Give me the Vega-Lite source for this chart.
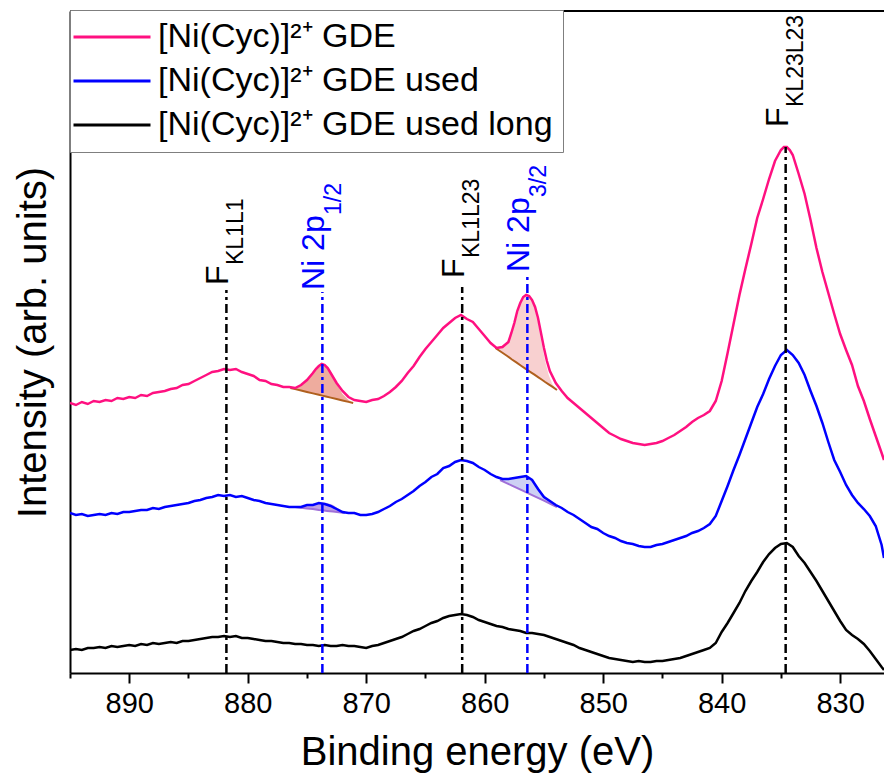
{
"$schema": "https://vega.github.io/schema/vega-lite/v6.json",
"width": 814, "height": 662,
"autosize": {"type": "none"},
"padding": {"left": 70, "top": 11, "right": 0, "bottom": 105},
"config": {"font": "Liberation Sans", "view": {"stroke": null},
  "axis": {"domainColor": "black", "domainWidth": 2, "tickColor": "black", "tickWidth": 2, "labelColor": "black", "titleColor": "black", "titleFontWeight": "normal", "grid": false, "labelFont": "Liberation Sans", "titleFont": "Liberation Sans"}},
"datasets": {
"spec": [
{"s":"a","e":895,"I":270},{"s":"a","e":894.5,"I":268},{"s":"a","e":894,"I":271},{"s":"a","e":893.5,"I":269},{"s":"a","e":893,"I":272},{"s":"a","e":892.5,"I":271},{"s":"a","e":892,"I":273},{"s":"a","e":891.5,"I":272},{"s":"a","e":891,"I":275},{"s":"a","e":890.5,"I":274},{"s":"a","e":890,"I":276},{"s":"a","e":889.5,"I":275},{"s":"a","e":889,"I":278},{"s":"a","e":888.5,"I":277},{"s":"a","e":888,"I":280},{"s":"a","e":887.5,"I":281},{"s":"a","e":887,"I":282},{"s":"a","e":886.5,"I":284},{"s":"a","e":886,"I":285},{"s":"a","e":885.5,"I":288},{"s":"a","e":885,"I":289},{"s":"a","e":884.5,"I":292},{"s":"a","e":884,"I":295},{"s":"a","e":883.5,"I":298},{"s":"a","e":883,"I":301},{"s":"a","e":882.5,"I":302},{"s":"a","e":882,"I":304},{"s":"a","e":881.5,"I":303},{"s":"a","e":881,"I":304},{"s":"a","e":880.5,"I":301},{"s":"a","e":880,"I":299},{"s":"a","e":879.5,"I":297},{"s":"a","e":879,"I":293},{"s":"a","e":878.5,"I":292},{"s":"a","e":878,"I":289},{"s":"a","e":877.5,"I":288},{"s":"a","e":877,"I":286},{"s":"a","e":876.5,"I":286},{"s":"a","e":876,"I":285},{"s":"a","e":875.5,"I":288},{"s":"a","e":875,"I":293},{"s":"a","e":874.5,"I":300},{"s":"a","e":874.25,"I":304},{"s":"a","e":874,"I":307},{"s":"a","e":873.75,"I":309},{"s":"a","e":873.5,"I":308},{"s":"a","e":873.25,"I":305},{"s":"a","e":873,"I":300},{"s":"a","e":872.75,"I":295},{"s":"a","e":872.5,"I":290},{"s":"a","e":872,"I":282},{"s":"a","e":871.5,"I":276},{"s":"a","e":871,"I":273},{"s":"a","e":870.5,"I":272},{"s":"a","e":870,"I":271},{"s":"a","e":869.5,"I":273},{"s":"a","e":869,"I":274},{"s":"a","e":868.5,"I":277},{"s":"a","e":868,"I":281},{"s":"a","e":867.5,"I":286},{"s":"a","e":867,"I":292},{"s":"a","e":866.5,"I":300},{"s":"a","e":866,"I":307},{"s":"a","e":865.5,"I":316},{"s":"a","e":865,"I":324},{"s":"a","e":864.5,"I":331},{"s":"a","e":864,"I":338},{"s":"a","e":863.5,"I":345},{"s":"a","e":863,"I":350},{"s":"a","e":862.5,"I":355},{"s":"a","e":862,"I":358},{"s":"a","e":861.5,"I":354},{"s":"a","e":861,"I":351},{"s":"a","e":860.5,"I":344},{"s":"a","e":860,"I":337},{"s":"a","e":859.5,"I":330},{"s":"a","e":859,"I":325},{"s":"a","e":858.5,"I":326},{"s":"a","e":858,"I":331},{"s":"a","e":857.75,"I":340},{"s":"a","e":857.5,"I":350},{"s":"a","e":857.25,"I":362},{"s":"a","e":857,"I":370},{"s":"a","e":856.75,"I":376},{"s":"a","e":856.5,"I":378},{"s":"a","e":856.25,"I":377},{"s":"a","e":856,"I":373},{"s":"a","e":855.75,"I":366},{"s":"a","e":855.5,"I":355},{"s":"a","e":855.25,"I":340},{"s":"a","e":855,"I":325},{"s":"a","e":854.75,"I":312},{"s":"a","e":854.5,"I":302},{"s":"a","e":854,"I":290},{"s":"a","e":853.5,"I":282},{"s":"a","e":853,"I":275},{"s":"a","e":852.5,"I":270},{"s":"a","e":852,"I":265},{"s":"a","e":851.5,"I":260},{"s":"a","e":851,"I":255},{"s":"a","e":850.5,"I":250},{"s":"a","e":850,"I":245},{"s":"a","e":849.5,"I":240},{"s":"a","e":849,"I":237},{"s":"a","e":848.5,"I":234},{"s":"a","e":848,"I":232},{"s":"a","e":847.5,"I":230},{"s":"a","e":847,"I":229},{"s":"a","e":846.5,"I":228},{"s":"a","e":846,"I":229},{"s":"a","e":845.5,"I":230},{"s":"a","e":845,"I":232},{"s":"a","e":844.5,"I":235},{"s":"a","e":844,"I":238},{"s":"a","e":843.5,"I":242},{"s":"a","e":843,"I":246},{"s":"a","e":842.5,"I":251},{"s":"a","e":842,"I":255},{"s":"a","e":841.5,"I":258},{"s":"a","e":841,"I":262},{"s":"a","e":840.5,"I":272},{"s":"a","e":840,"I":292},{"s":"a","e":839.5,"I":320},{"s":"a","e":839,"I":349},{"s":"a","e":838.5,"I":378},{"s":"a","e":838,"I":404},{"s":"a","e":837.5,"I":429},{"s":"a","e":837,"I":455},{"s":"a","e":836.5,"I":474},{"s":"a","e":836,"I":494},{"s":"a","e":835.5,"I":512},{"s":"a","e":835,"I":523},{"s":"a","e":834.75,"I":526},{"s":"a","e":834.5,"I":526},{"s":"a","e":834.25,"I":523},{"s":"a","e":834,"I":518},{"s":"a","e":833.5,"I":499},{"s":"a","e":833,"I":479},{"s":"a","e":832.5,"I":453},{"s":"a","e":832,"I":425},{"s":"a","e":831.5,"I":401},{"s":"a","e":831,"I":380},{"s":"a","e":830.5,"I":359},{"s":"a","e":830,"I":339},{"s":"a","e":829.5,"I":323},{"s":"a","e":829,"I":308},{"s":"a","e":828.5,"I":287},{"s":"a","e":828,"I":272},{"s":"a","e":827.5,"I":254},{"s":"a","e":827,"I":237},{"s":"a","e":826.5,"I":220},{"s":"a","e":826.3,"I":213},
{"s":"b","e":895,"I":160},{"s":"b","e":894.5,"I":158},{"s":"b","e":894,"I":159},{"s":"b","e":893.5,"I":157},{"s":"b","e":893,"I":158},{"s":"b","e":892.5,"I":159},{"s":"b","e":892,"I":158},{"s":"b","e":891.5,"I":160},{"s":"b","e":891,"I":159},{"s":"b","e":890.5,"I":161},{"s":"b","e":890,"I":161},{"s":"b","e":889.5,"I":162},{"s":"b","e":889,"I":163},{"s":"b","e":888.5,"I":163},{"s":"b","e":888,"I":165},{"s":"b","e":887.5,"I":164},{"s":"b","e":887,"I":166},{"s":"b","e":886.5,"I":167},{"s":"b","e":886,"I":168},{"s":"b","e":885.5,"I":169},{"s":"b","e":885,"I":170},{"s":"b","e":884.5,"I":172},{"s":"b","e":884,"I":173},{"s":"b","e":883.5,"I":175},{"s":"b","e":883,"I":176},{"s":"b","e":882.5,"I":178},{"s":"b","e":882,"I":177},{"s":"b","e":881.5,"I":178},{"s":"b","e":881,"I":176},{"s":"b","e":880.5,"I":177},{"s":"b","e":880,"I":175},{"s":"b","e":879.5,"I":173},{"s":"b","e":879,"I":172},{"s":"b","e":878.5,"I":170},{"s":"b","e":878,"I":169},{"s":"b","e":877.5,"I":168},{"s":"b","e":877,"I":167},{"s":"b","e":876.5,"I":166},{"s":"b","e":876,"I":166},{"s":"b","e":875.5,"I":166},{"s":"b","e":875,"I":168},{"s":"b","e":874.5,"I":168},{"s":"b","e":874,"I":170},{"s":"b","e":873.5,"I":169},{"s":"b","e":873,"I":167},{"s":"b","e":872.5,"I":164},{"s":"b","e":872,"I":161},{"s":"b","e":871.5,"I":160},{"s":"b","e":871,"I":160},{"s":"b","e":870.5,"I":158},{"s":"b","e":870,"I":158},{"s":"b","e":869.5,"I":159},{"s":"b","e":869,"I":161},{"s":"b","e":868.5,"I":164},{"s":"b","e":868,"I":167},{"s":"b","e":867.5,"I":171},{"s":"b","e":867,"I":174},{"s":"b","e":866.5,"I":178},{"s":"b","e":866,"I":182},{"s":"b","e":865.5,"I":187},{"s":"b","e":865,"I":191},{"s":"b","e":864.5,"I":196},{"s":"b","e":864,"I":199},{"s":"b","e":863.5,"I":205},{"s":"b","e":863,"I":207},{"s":"b","e":862.5,"I":211},{"s":"b","e":862,"I":213},{"s":"b","e":861.5,"I":212},{"s":"b","e":861,"I":210},{"s":"b","e":860.5,"I":206},{"s":"b","e":860,"I":203},{"s":"b","e":859.5,"I":199},{"s":"b","e":859,"I":196},{"s":"b","e":858.5,"I":194},{"s":"b","e":858,"I":194},{"s":"b","e":857.5,"I":195},{"s":"b","e":857,"I":196},{"s":"b","e":856.5,"I":197},{"s":"b","e":856,"I":193},{"s":"b","e":855.5,"I":184},{"s":"b","e":855,"I":176},{"s":"b","e":854.5,"I":172},{"s":"b","e":854,"I":168},{"s":"b","e":853.5,"I":165},{"s":"b","e":853,"I":161},{"s":"b","e":852.5,"I":158},{"s":"b","e":852,"I":154},{"s":"b","e":851.5,"I":150},{"s":"b","e":851,"I":146},{"s":"b","e":850.5,"I":144},{"s":"b","e":850,"I":140},{"s":"b","e":849.5,"I":137},{"s":"b","e":849,"I":135},{"s":"b","e":848.5,"I":132},{"s":"b","e":848,"I":130},{"s":"b","e":847.5,"I":129},{"s":"b","e":847,"I":127},{"s":"b","e":846.5,"I":126},{"s":"b","e":846,"I":126},{"s":"b","e":845.5,"I":128},{"s":"b","e":845,"I":129},{"s":"b","e":844.5,"I":131},{"s":"b","e":844,"I":133},{"s":"b","e":843.5,"I":135},{"s":"b","e":843,"I":137},{"s":"b","e":842.5,"I":140},{"s":"b","e":842,"I":142},{"s":"b","e":841.5,"I":145},{"s":"b","e":841,"I":149},{"s":"b","e":840.5,"I":157},{"s":"b","e":840,"I":172},{"s":"b","e":839.5,"I":187},{"s":"b","e":839,"I":203},{"s":"b","e":838.5,"I":218},{"s":"b","e":838,"I":234},{"s":"b","e":837.5,"I":250},{"s":"b","e":837,"I":266},{"s":"b","e":836.5,"I":279},{"s":"b","e":836,"I":294},{"s":"b","e":835.5,"I":307},{"s":"b","e":835,"I":318},{"s":"b","e":834.5,"I":323},{"s":"b","e":834,"I":318},{"s":"b","e":833.5,"I":310},{"s":"b","e":833,"I":298},{"s":"b","e":832.5,"I":282},{"s":"b","e":832,"I":267},{"s":"b","e":831.5,"I":250},{"s":"b","e":831,"I":231},{"s":"b","e":830.5,"I":213},{"s":"b","e":830,"I":201},{"s":"b","e":829.5,"I":188},{"s":"b","e":829,"I":178},{"s":"b","e":828.5,"I":170},{"s":"b","e":828,"I":164},{"s":"b","e":827.5,"I":157},{"s":"b","e":827,"I":147},{"s":"b","e":826.5,"I":128},{"s":"b","e":826.3,"I":115},
{"s":"c","e":895,"I":23},{"s":"c","e":894.5,"I":24},{"s":"c","e":894,"I":23},{"s":"c","e":893.5,"I":25},{"s":"c","e":893,"I":25},{"s":"c","e":892.5,"I":26},{"s":"c","e":892,"I":25},{"s":"c","e":891.5,"I":27},{"s":"c","e":891,"I":26},{"s":"c","e":890.5,"I":27},{"s":"c","e":890,"I":28},{"s":"c","e":889.5,"I":27},{"s":"c","e":889,"I":29},{"s":"c","e":888.5,"I":28},{"s":"c","e":888,"I":30},{"s":"c","e":887.5,"I":29},{"s":"c","e":887,"I":30},{"s":"c","e":886.5,"I":31},{"s":"c","e":886,"I":30},{"s":"c","e":885.5,"I":32},{"s":"c","e":885,"I":32},{"s":"c","e":884.5,"I":33},{"s":"c","e":884,"I":34},{"s":"c","e":883.5,"I":35},{"s":"c","e":883,"I":36},{"s":"c","e":882.5,"I":36},{"s":"c","e":882,"I":37},{"s":"c","e":881.5,"I":36},{"s":"c","e":881,"I":37},{"s":"c","e":880.5,"I":35},{"s":"c","e":880,"I":35},{"s":"c","e":879.5,"I":34},{"s":"c","e":879,"I":33},{"s":"c","e":878.5,"I":32},{"s":"c","e":878,"I":32},{"s":"c","e":877.5,"I":31},{"s":"c","e":877,"I":30},{"s":"c","e":876.5,"I":30},{"s":"c","e":876,"I":29},{"s":"c","e":875.5,"I":29},{"s":"c","e":875,"I":28},{"s":"c","e":874.5,"I":28},{"s":"c","e":874,"I":27},{"s":"c","e":873.5,"I":28},{"s":"c","e":873,"I":27},{"s":"c","e":872.5,"I":27},{"s":"c","e":872,"I":28},{"s":"c","e":871.5,"I":27},{"s":"c","e":871,"I":27},{"s":"c","e":870.5,"I":26},{"s":"c","e":870,"I":25},{"s":"c","e":869.5,"I":27},{"s":"c","e":869,"I":28},{"s":"c","e":868.5,"I":30},{"s":"c","e":868,"I":32},{"s":"c","e":867.5,"I":34},{"s":"c","e":867,"I":36},{"s":"c","e":866.5,"I":39},{"s":"c","e":866,"I":42},{"s":"c","e":865.5,"I":44},{"s":"c","e":865,"I":47},{"s":"c","e":864.5,"I":50},{"s":"c","e":864,"I":52},{"s":"c","e":863.5,"I":55},{"s":"c","e":863,"I":57},{"s":"c","e":862.5,"I":58},{"s":"c","e":862,"I":59},{"s":"c","e":861.5,"I":58},{"s":"c","e":861,"I":56},{"s":"c","e":860.5,"I":53},{"s":"c","e":860,"I":51},{"s":"c","e":859.5,"I":49},{"s":"c","e":859,"I":47},{"s":"c","e":858.5,"I":46},{"s":"c","e":858,"I":44},{"s":"c","e":857.5,"I":43},{"s":"c","e":857,"I":42},{"s":"c","e":856.5,"I":40},{"s":"c","e":856,"I":40},{"s":"c","e":855.5,"I":39},{"s":"c","e":855,"I":38},{"s":"c","e":854.5,"I":36},{"s":"c","e":854,"I":34},{"s":"c","e":853.5,"I":32},{"s":"c","e":853,"I":30},{"s":"c","e":852.5,"I":28},{"s":"c","e":852,"I":25},{"s":"c","e":851.5,"I":23},{"s":"c","e":851,"I":21},{"s":"c","e":850.5,"I":19},{"s":"c","e":850,"I":17},{"s":"c","e":849.5,"I":15},{"s":"c","e":849,"I":14},{"s":"c","e":848.5,"I":13},{"s":"c","e":848,"I":12},{"s":"c","e":847.5,"I":11},{"s":"c","e":847,"I":12},{"s":"c","e":846.5,"I":11},{"s":"c","e":846,"I":11},{"s":"c","e":845.5,"I":12},{"s":"c","e":845,"I":12},{"s":"c","e":844.5,"I":13},{"s":"c","e":844,"I":14},{"s":"c","e":843.5,"I":15},{"s":"c","e":843,"I":17},{"s":"c","e":842.5,"I":19},{"s":"c","e":842,"I":21},{"s":"c","e":841.5,"I":23},{"s":"c","e":841,"I":25},{"s":"c","e":840.5,"I":30},{"s":"c","e":840,"I":41},{"s":"c","e":839.5,"I":50},{"s":"c","e":839,"I":60},{"s":"c","e":838.5,"I":70},{"s":"c","e":838,"I":82},{"s":"c","e":837.5,"I":92},{"s":"c","e":837,"I":101},{"s":"c","e":836.5,"I":111},{"s":"c","e":836,"I":119},{"s":"c","e":835.5,"I":125},{"s":"c","e":835,"I":129},{"s":"c","e":834.5,"I":130},{"s":"c","e":834,"I":126},{"s":"c","e":833.5,"I":117},{"s":"c","e":833,"I":110},{"s":"c","e":832.5,"I":101},{"s":"c","e":832,"I":92},{"s":"c","e":831.5,"I":82},{"s":"c","e":831,"I":72},{"s":"c","e":830.5,"I":62},{"s":"c","e":830,"I":52},{"s":"c","e":829.5,"I":43},{"s":"c","e":829,"I":38},{"s":"c","e":828.5,"I":34},{"s":"c","e":828,"I":29},{"s":"c","e":827.5,"I":22},{"s":"c","e":827,"I":14},{"s":"c","e":826.5,"I":6},{"s":"c","e":826.3,"I":3}
],
"fits": [
{"f":"p12","e":876.4,"top":285,"base":285},{"f":"p12","e":876,"top":285.5,"base":283.9},{"f":"p12","e":875.5,"top":288,"base":282.5},{"f":"p12","e":875,"top":293,"base":281},{"f":"p12","e":874.5,"top":300,"base":279.6},{"f":"p12","e":874,"top":307,"base":278.2},{"f":"p12","e":873.7,"top":309,"base":277.4},{"f":"p12","e":873.4,"top":307,"base":276.5},{"f":"p12","e":873,"top":300,"base":275.4},{"f":"p12","e":872.5,"top":289,"base":274},{"f":"p12","e":872,"top":279,"base":272.5},{"f":"p12","e":871.5,"top":273,"base":271.1},{"f":"p12","e":871.1,"top":270,"base":270},
{"f":"p32","e":859.1,"top":325,"base":325},{"f":"p32","e":858.6,"top":327,"base":321},{"f":"p32","e":858.1,"top":331,"base":317},{"f":"p32","e":857.7,"top":340,"base":313.5},{"f":"p32","e":857.3,"top":356,"base":310.3},{"f":"p32","e":856.9,"top":371,"base":307},{"f":"p32","e":856.6,"top":377,"base":304.6},{"f":"p32","e":856.4,"top":378,"base":303},{"f":"p32","e":856.1,"top":375,"base":300.7},{"f":"p32","e":855.8,"top":366,"base":298.3},{"f":"p32","e":855.5,"top":350,"base":295.9},{"f":"p32","e":855.2,"top":330,"base":293.5},{"f":"p32","e":854.9,"top":312,"base":291},{"f":"p32","e":854.6,"top":298,"base":288.7},{"f":"p32","e":854.3,"top":289,"base":286.3},{"f":"p32","e":853.9,"top":283,"base":283},
{"f":"b12","e":876,"top":166,"base":166},{"f":"b12","e":875.5,"top":166.5,"base":165.3},{"f":"b12","e":875,"top":167.5,"base":164.6},{"f":"b12","e":874.5,"top":169,"base":163.9},{"f":"b12","e":874,"top":170,"base":163.1},{"f":"b12","e":873.7,"top":170.5,"base":162.7},{"f":"b12","e":873.3,"top":170,"base":162.1},{"f":"b12","e":872.8,"top":168,"base":161.4},{"f":"b12","e":872.3,"top":164,"base":160.7},{"f":"b12","e":871.8,"top":160,"base":160},
{"f":"b32","e":858.7,"top":193,"base":193},{"f":"b32","e":858.2,"top":194,"base":190.2},{"f":"b32","e":857.7,"top":195,"base":187.4},{"f":"b32","e":857.2,"top":196,"base":184.6},{"f":"b32","e":856.7,"top":197,"base":181.8},{"f":"b32","e":856.4,"top":197,"base":180.1},{"f":"b32","e":856,"top":193,"base":177.9},{"f":"b32","e":855.5,"top":186,"base":175.1},{"f":"b32","e":855,"top":178,"base":172.3},{"f":"b32","e":854.5,"top":171,"base":169.5},{"f":"b32","e":853.9,"top":166,"base":166}
],
"lines": [
{"e":881.8,"bot":0,"top":383,"g":"F"},{"e":873.7,"bot":0,"top":381,"g":"Ni"},{"e":861.9,"bot":0,"top":386,"g":"F"},{"e":856.4,"bot":0,"top":398,"g":"Ni"},{"e":834.6,"bot":0,"top":526,"g":"F"}
],
"labels": [
{"e":881.8,"yl":388,"main":"F","sub":"KL1L1","g":"F"},
{"e":861.9,"yl":395,"main":"F","sub":"KL1L23","g":"F"},
{"e":834.6,"yl":546,"main":"F","sub":"KL23L23","g":"F"},
{"e":873.7,"yl":383,"main":"Ni 2p","sub":"1/2","g":"Ni"},
{"e":856.4,"yl":401,"main":"Ni 2p","sub":"3/2","g":"Ni"}
],
"frame": [{"t": 662}]
},
"layer": [
{"data": {"name": "frame"}, "mark": {"type": "rule", "color": "black", "strokeWidth": 2}, "encoding": {"y": {"field": "t", "type": "quantitative"}}},
{"data": {"name": "fits"}, "transform": [{"filter": "datum.f == 'p12'"}], "mark": {"type": "area", "color": "#E8907E", "opacity": 0.75}, "encoding": {"x": {"field": "e", "type": "quantitative"}, "y": {"field": "top", "type": "quantitative"}, "y2": {"field": "base"}}},
{"data": {"name": "fits"}, "transform": [{"filter": "datum.f == 'p32'"}], "mark": {"type": "area", "color": "#F6C4C4", "opacity": 0.8}, "encoding": {"x": {"field": "e", "type": "quantitative"}, "y": {"field": "top", "type": "quantitative"}, "y2": {"field": "base"}}},
{"data": {"name": "fits"}, "transform": [{"filter": "datum.f == 'b12'"}], "mark": {"type": "area", "color": "#A57AD8", "opacity": 0.7}, "encoding": {"x": {"field": "e", "type": "quantitative"}, "y": {"field": "top", "type": "quantitative"}, "y2": {"field": "base"}}},
{"data": {"name": "fits"}, "transform": [{"filter": "datum.f == 'b32'"}], "mark": {"type": "area", "color": "#C4C8F2", "opacity": 0.85}, "encoding": {"x": {"field": "e", "type": "quantitative"}, "y": {"field": "top", "type": "quantitative"}, "y2": {"field": "base"}}},
{"data": {"name": "fits"}, "transform": [{"filter": "datum.f == 'p12' || datum.f == 'p32'"}], "mark": {"type": "line", "color": "#B0601E", "strokeWidth": 2}, "encoding": {"x": {"field": "e", "type": "quantitative"}, "y": {"field": "base", "type": "quantitative"}, "detail": {"field": "f", "type": "nominal"}}},
{"data": {"name": "fits"}, "transform": [{"filter": "datum.f == 'b12' || datum.f == 'b32'"}], "mark": {"type": "line", "color": "#A070D8", "strokeWidth": 2}, "encoding": {"x": {"field": "e", "type": "quantitative"}, "y": {"field": "base", "type": "quantitative"}, "detail": {"field": "f", "type": "nominal"}}},
{"data": {"name": "spec"}, "mark": {"type": "line", "strokeWidth": 2.5, "clip": true},
 "encoding": {
  "x": {"field": "e", "type": "quantitative",
   "scale": {"domain": [826.3, 895], "reverse": true, "nice": false, "zero": false},
   "axis": {"title": "Binding energy (eV)", "titleFontSize": 40, "labelFontSize": 29, "values": [895,890,885,880,875,870,865,860,855,850,845,840,835,830],
    "labelExpr": "datum.value % 10 === 0 ? datum.label : ''", "labelFlush": false,
    "tickSize": {"condition": {"test": "datum.value % 10 === 0", "value": 10}, "value": 5},
    "labelPadding": 6, "titlePadding": 14}},
  "y": {"field": "I", "type": "quantitative",
   "scale": {"domain": [0, 662], "nice": false, "zero": false},
   "axis": {"title": "Intensity (arb. units)", "titleFontSize": 40, "labels": false, "ticks": false, "titlePadding": 17}},
  "color": {"field": "s", "type": "nominal",
   "scale": {"domain": ["a", "b", "c"], "range": ["#FF1080", "#0000FF", "#000000"]},
   "legend": {"orient": "none", "legendX": 0, "legendY": -1, "title": null,
    "labelExpr": "datum.label == 'a' ? '[Ni(Cyc)]²⁺ GDE' : datum.label == 'b' ? '[Ni(Cyc)]²⁺ GDE used' : '[Ni(Cyc)]²⁺ GDE used long'",
    "symbolType": "M-3.85,0H3.85", "symbolSize": 400, "symbolStrokeWidth": 3, "symbolOffset": 15,
    "labelFontSize": 34, "labelFont": "Liberation Sans", "labelColor": "black", "labelLimit": 0, "labelOffset": 29,
    "padding": 10, "rowPadding": 10, "fillColor": "white", "strokeColor": "#7F7F7F"}}
 }},
{"data": {"name": "lines"}, "transform": [{"filter": "datum.g == 'F'"}], "mark": {"type": "rule", "color": "black", "strokeWidth": 2.5, "strokeDash": [9, 4, 3, 4]}, "encoding": {"x": {"field": "e", "type": "quantitative"}, "y": {"field": "bot", "type": "quantitative"}, "y2": {"field": "top"}}},
{"data": {"name": "lines"}, "transform": [{"filter": "datum.g == 'Ni'"}], "mark": {"type": "rule", "color": "#0000FF", "strokeWidth": 2.5, "strokeDash": [9, 4, 3, 4]}, "encoding": {"x": {"field": "e", "type": "quantitative"}, "y": {"field": "bot", "type": "quantitative"}, "y2": {"field": "top"}}},
{"data": {"name": "labels"}, "transform": [{"filter": "datum.g == 'F'"}], "mark": {"type": "text", "angle": 270, "align": "left", "baseline": "alphabetic", "fontSize": 32, "font": "Liberation Sans", "color": "black", "dy": 2}, "encoding": {"x": {"field": "e", "type": "quantitative"}, "y": {"field": "yl", "type": "quantitative"}, "text": {"field": "main", "type": "nominal"}}},
{"data": {"name": "labels"}, "transform": [{"filter": "datum.g == 'F'"}], "mark": {"type": "text", "angle": 270, "align": "left", "baseline": "alphabetic", "fontSize": 23, "font": "Liberation Sans", "color": "black", "dx": 20, "dy": 17}, "encoding": {"x": {"field": "e", "type": "quantitative"}, "y": {"field": "yl", "type": "quantitative"}, "text": {"field": "sub", "type": "nominal"}}},
{"data": {"name": "labels"}, "transform": [{"filter": "datum.g == 'Ni'"}], "mark": {"type": "text", "angle": 270, "align": "left", "baseline": "alphabetic", "fontSize": 32, "font": "Liberation Sans", "color": "#0000FF", "dy": 2}, "encoding": {"x": {"field": "e", "type": "quantitative"}, "y": {"field": "yl", "type": "quantitative"}, "text": {"field": "main", "type": "nominal"}}},
{"data": {"name": "labels"}, "transform": [{"filter": "datum.g == 'Ni'"}], "mark": {"type": "text", "angle": 270, "align": "left", "baseline": "alphabetic", "fontSize": 23, "font": "Liberation Sans", "color": "#0000FF", "dx": 75, "dy": 19}, "encoding": {"x": {"field": "e", "type": "quantitative"}, "y": {"field": "yl", "type": "quantitative"}, "text": {"field": "sub", "type": "nominal"}}}
]
}
